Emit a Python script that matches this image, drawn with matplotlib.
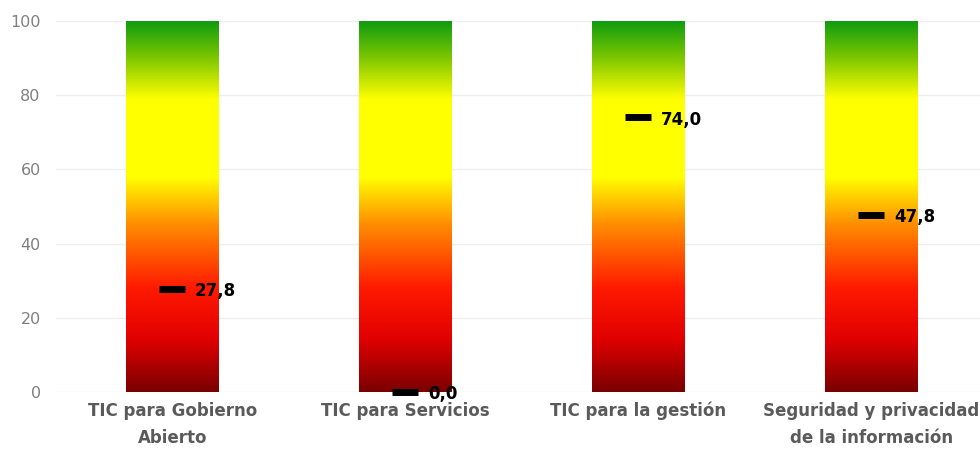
import numpy as np
import matplotlib
matplotlib.use('Agg')
import matplotlib.pyplot as plt
from matplotlib.colors import LinearSegmentedColormap

categorias = ['TIC para Gobierno\nAbierto', 'TIC para Servicios',
              'TIC para la gestión', 'Seguridad y privacidad\nde la información']
valores = [27.8, 0.0, 74.0, 47.8]
etiquetas = ['27,8', '0,0', '74,0', '47,8']
yticks = [0, 20, 40, 60, 80, 100]

# gradiente rojo -> amarillo -> verde
cmap = LinearSegmentedColormap.from_list('semaforo', [
    (0.00, '#7a0000'),
    (0.14, '#e00000'),
    (0.28, '#ff1a00'),
    (0.45, '#ff8c00'),
    (0.58, '#ffff00'),
    (0.79, '#ffff00'),
    (0.90, '#80c800'),
    (1.00, '#109c10'),
])

fig = plt.figure(figsize=(9.8, 4.49), dpi=100)
ax = fig.add_axes([56/980, 57/449, 932/980, 371/449])

ancho = 0.395
grad = np.linspace(0, 1, 256).reshape(-1, 1)
x = np.arange(len(categorias))
for xi in x:
    ax.imshow(grad, cmap=cmap, origin='lower', aspect='auto',
              extent=[xi - ancho/2, xi + ancho/2, 0, 100], zorder=2)

ax.hlines(valores, x - 0.06, x + 0.055, colors='black', lw=5, zorder=4, clip_on=False)
for xi, v, t in zip(x, valores, etiquetas):
    ax.text(xi + 0.097, v - 0.6, t, ha='left', va='center', fontsize=12,
            fontweight='bold', color='black', zorder=5)

ax.set_xlim(-0.5, 3.5)
ax.set_ylim(0, 100)
ax.set_yticks(yticks)
ax.set_yticklabels([str(t) for t in yticks], color='#808080', fontsize=11.5)
ax.set_xticks(x)
ax.set_xticklabels(categorias, fontsize=12, fontweight='bold', color='#5a5a5a',
                   linespacing=1.65)
ax.tick_params(length=0, pad=11)
ax.tick_params(axis='x', pad=7)
ax.grid(axis='y', color='#eeeeee', lw=1, zorder=0)
ax.set_axisbelow(True)
for s in ax.spines.values():
    s.set_visible(False)

fig.savefig('out.png', dpi=100)
